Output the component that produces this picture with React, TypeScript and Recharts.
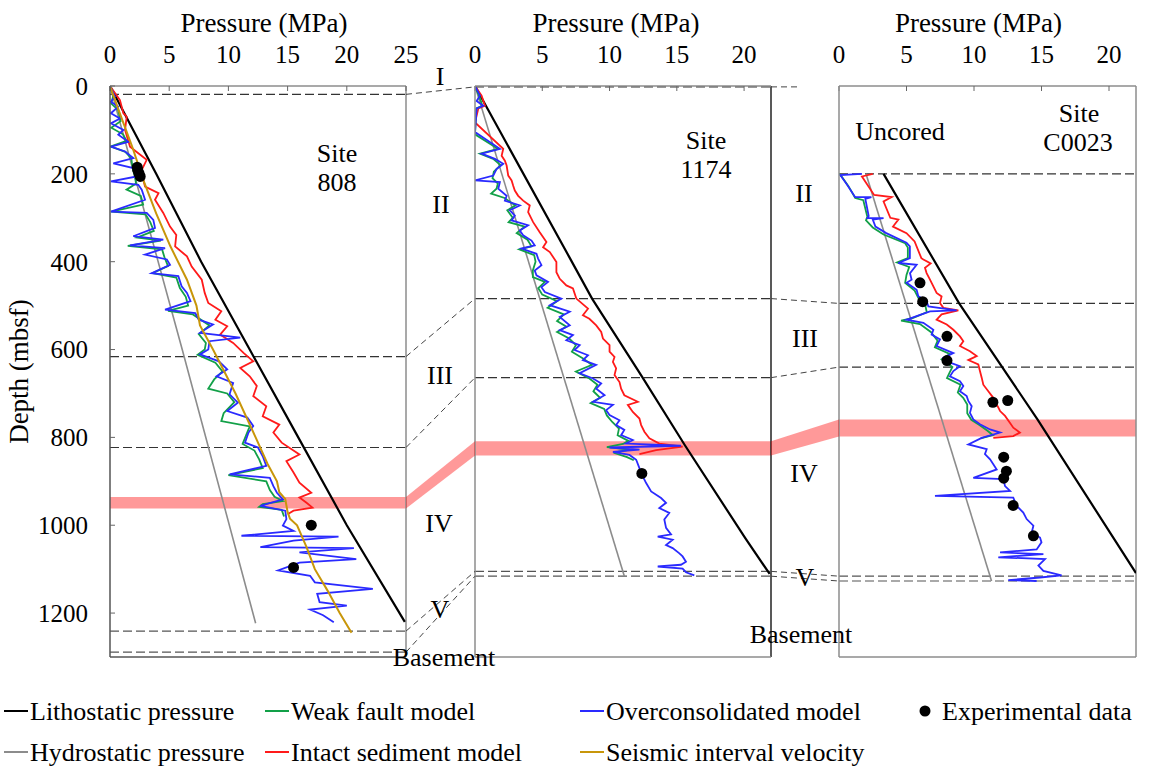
import React from 'react';
import {
  ComposedChart, Line, Scatter, XAxis, YAxis,
  ReferenceLine, ReferenceArea, Label,
} from 'recharts';

type Pair = [number, number | null];

const SERIF = '"Liberation Serif", "Times New Roman", serif';
const COLORS = {
  litho: '#000000',
  hydro: '#8c8c8c',
  weak: '#12a048',
  intact: '#ff1a1a',
  over: '#2a2aff',
  seismic: '#c8960a',
  band: 'rgba(255,0,0,0.4)',
};

// shared depth geometry (all three panels use 0-1300 mbsf over the same height)
const PLOT_TOP = 86;
const PLOT_H = 571;
const DEPTH_MAX = 1300;
const DEPTH_TICKS = [0, 200, 400, 600, 800, 1000, 1200];

// ---------- Site 808 ----------
const S808_LITHO: Pair[] = [[0, 0], [200, 3.9], [400, 7.7], [600, 11.8], [800, 15.9], [1000, 20.0], [1220, 24.9]];
const S808_HYDRO: Pair[] = [[0, 0], [600, 6.1], [1223, 12.3]];
const S808_OVER: Pair[] = [
  [0, 0], [24, 0.42], [36, 0.08], [47, 0.7], [62, 0.08], [74, 0.84], [85, 0.08], [100, 1.13], [111, 0.7],
  [127, 1.55], [138, 0.08], [149, 1.27], [164, 1.97], [176, 0.28], [187, 1.97], [206, 2.25], [217, 0.08],
  [225, 2.39], [236, 2.68], [259, 2.96], [286, 0.08], [289, 3.1], [305, 3.66], [323, 3.8], [342, 1.97],
  [350, 4.5], [363, 1.69], [369, 4.65], [384, 2.96], [395, 4.8], [407, 5.07], [426, 3.52], [433, 5.77],
  [456, 6.05], [471, 6.5], [490, 6.8], [509, 4.65], [517, 7.2], [532, 7.5], [543, 8.7], [562, 7.6],
  [573, 11.0], [581, 8.4], [600, 8.3], [611, 7.6], [627, 9.2], [645, 9.9], [661, 9.0], [676, 10.4],
  [702, 10.1], [721, 10.8], [740, 9.9], [755, 11.6], [774, 12.1], [789, 11.7], [812, 11.4], [823, 12.5],
  [843, 12.9], [865, 13.2], [884, 10.1], [892, 13.5], [911, 13.8], [926, 14.1], [941, 14.6], [956, 12.7],
  [967, 14.8], [986, 14.9], [1001, 14.6], [1013, 15.5], [1024, 11.1], [1026, 19.3], [1035, 15.5],
  [1050, 12.7], [1052, 20.6], [1062, 16.0], [1077, 20.8], [1085, 16.0], [1103, 14.2], [1115, 16.9],
  [1130, 17.3], [1145, 22.2], [1156, 17.5], [1175, 17.7], [1183, 20.0], [1192, 16.9], [1205, 18.0], [1221, 18.9],
];
const S808_WEAK: Pair[] = [
  [0, 0], [20, 0.3], [40, 0.1], [55, 0.7], [80, 0.9], [95, 0.1], [110, 1.1], [125, 1.4], [138, 0.05],
  [150, 1.3], [165, 1.8], [185, 1.9], [205, 2.1], [222, 2.2], [236, 1.4], [250, 2.6], [270, 2.8], [286, 0.1],
  [292, 3.0], [310, 3.4], [330, 3.7], [345, 2.3], [352, 4.3], [364, 1.5], [372, 4.4], [390, 4.6], [410, 4.9],
  [426, 3.6], [436, 5.6], [460, 5.9], [480, 6.4], [500, 6.6], [512, 4.9], [520, 7.0], [545, 8.4], [565, 7.5],
  [585, 8.1], [600, 8.0], [612, 7.4], [630, 8.9], [650, 9.5], [668, 8.8], [689, 8.3], [700, 9.9], [720, 10.5],
  [745, 9.6], [763, 9.4], [775, 11.8], [795, 11.5], [815, 11.2], [830, 12.2], [850, 12.6], [870, 12.9],
  [886, 10.0], [900, 13.2], [920, 13.5], [935, 13.9], [945, 14.6], [952, 12.9], [958, 12.6], [965, 14.5], [980, 14.7],
];
const S808_INTACT: Pair[] = [
  [0, 0], [32, 0.84], [62, 1.13], [70, 1.41], [100, 1.27], [138, 1.69], [153, 2.39], [168, 3.1], [191, 2.68],
  [214, 2.82], [229, 2.96], [244, 4.1], [259, 3.8], [289, 4.5], [320, 5.07], [339, 5.6], [365, 5.5], [388, 6.5],
  [411, 6.9], [441, 7.75], [471, 8.0], [494, 8.3], [513, 9.4], [532, 8.9], [547, 9.9], [566, 9.3], [585, 10.4],
  [608, 11.3], [627, 12.1], [642, 11.0], [661, 11.8], [683, 12.4], [706, 12.1], [729, 13.2], [752, 12.9],
  [771, 14.3], [789, 13.8], [812, 14.5], [839, 16.0], [854, 14.9], [880, 15.5], [903, 16.0], [926, 17.0],
  [937, 16.0], [949, 16.6], [960, 17.1], [967, 15.5], [975, 15.0],
];
const S808_SEISMIC: Pair[] = [
  [0, 0], [60, 0.8], [140, 1.9], [213, 2.8], [290, 3.9], [365, 5.1], [441, 6.5], [500, 7.3], [530, 7.5],
  [545, 7.6], [600, 8.7], [700, 10.6], [800, 12.3], [860, 13.3], [900, 14.1], [925, 14.3], [940, 14.8],
  [970, 15.0], [985, 15.2], [1000, 15.8], [1050, 16.6], [1100, 17.3], [1150, 18.4], [1200, 19.4], [1245, 20.4],
];
const S808_EXP: Pair[] = [[185, 2.3], [192, 2.35], [199, 2.45], [206, 2.55], [1000, 17.0], [1096, 15.5]];
const S808_UNITS = [19, 616, 823, 1241, 1289];
const S808_BAND: [number, number] = [936, 962];

// ---------- Site 1174 ----------
const S1174_LITHO: Pair[] = [[0, 0], [389, 7.0], [484, 8.7], [661, 12.4], [818, 15.6], [1030, 20.1], [1111, 21.9]];
const S1174_HYDRO: Pair[] = [[0, 0], [1116, 11.1]];
const S1174_OVER: Pair[] = [
  [0, 0], [22, 0.37], [34, 0.12], [45, 0.62], [51, 0.12], [78, null], [105, 0], [143, 1.85], [154, 0.49],
  [166, 1.48], [177, 2.1], [189, 1.6], [204, 1.36], [215, 0], [219, 1.85], [234, 1.73], [250, 2.35], [261, 2.22],
  [272, 3.33], [283, 2.59], [295, 2.96], [306, 2.72], [317, 3.95], [329, 3.33], [340, 3.58], [352, 4.2],
  [363, 4.44], [370, 3.46], [382, 4.57], [393, 4.69], [408, 4.94], [420, 4.44], [431, 4.57], [446, 5.43],
  [458, 4.94], [469, 5.19], [484, 6.42], [499, 5.56], [514, 7.04], [526, 6.3], [545, 7.04], [556, 6.3],
  [567, 7.28], [579, 6.79], [590, 7.78], [601, 7.4], [613, 8.4], [624, 8.02], [635, 9.0], [654, 7.78],
  [666, 8.77], [677, 9.38], [689, 9.01], [704, 9.63], [719, 8.77], [726, 10.25], [738, 9.75], [749, 10.0],
  [761, 10.74], [772, 10.49], [783, 11.1], [795, 10.86], [806, 11.73], [814, 11.23], [819, 15.31], [823, 10.0],
  [828, 12.22], [833, 10.25], [840, 11.48], [851, 11.98], [870, 12.22], [889, 12.47], [904, 12.72],
  [923, 13.09], [938, 13.83], [949, 14.2], [961, 13.7], [972, 14.44], [987, 14.07], [1006, 14.2],
  [1021, 14.57], [1026, 13.58], [1033, 14.69], [1045, 14.2], [1052, 14.69], [1064, 15.19], [1071, 15.43],
  [1083, 15.68], [1090, 15.31], [1094, 13.58], [1099, 15.43], [1107, 15.68], [1114, 16.3],
];
const S1174_WEAK: Pair[] = [
  [0, 0], [22, 0.3], [45, 0.55], [51, 0.1], [78, null], [110, 0], [143, 1.7], [154, 0.37], [166, 1.35],
  [180, 1.9], [195, 1.4], [210, 1.3], [222, 1.7], [234, 1.6], [245, 1.2], [255, 2.2], [272, 3.0], [283, 2.4],
  [300, 2.8], [310, 2.5], [320, 3.7], [335, 3.1], [350, 3.9], [365, 4.2], [372, 3.3], [385, 4.4], [400, 4.5],
  [420, 4.3], [435, 4.3], [446, 5.2], [460, 4.7], [475, 5.0], [490, 6.1], [505, 5.4], [520, 6.6], [535, 6.1],
  [548, 6.8], [560, 6.1], [575, 7.0], [590, 7.5], [605, 7.2], [620, 8.0], [635, 8.7], [650, 7.5], [666, 8.5],
  [680, 9.1], [695, 8.8], [710, 9.3], [722, 8.6], [735, 9.6], [750, 9.8], [765, 10.2], [780, 10.7], [795, 10.6],
  [808, 11.4], [815, 11.0], [822, 9.8], [828, 11.5], [835, 10.3], [845, 11.3], [852, 11.8],
];
const S1174_INTACT: Pair[] = [
  [0, 0], [22, 0.49], [45, 0.74], [51, 0.25], [70, null], [83, 0], [143, 2.1], [159, 1.98], [170, 2.22],
  [181, 2.35], [204, 2.47], [215, 2.72], [227, 2.84], [238, 2.96], [250, 3.21], [261, 3.58], [272, 4.07],
  [287, 3.95], [310, 4.32], [333, 4.81], [355, 5.31], [367, 5.06], [378, 5.56], [401, 6.05], [424, 6.05],
  [439, 6.3], [454, 6.79], [461, 7.28], [484, 7.53], [507, 8.4], [522, 8.02], [530, 8.5], [545, 9.01],
  [560, 9.38], [575, 9.51], [590, 10.0], [605, 10.0], [617, 10.37], [628, 10.25], [643, 10.49], [658, 10.37],
  [674, 10.74], [689, 10.86], [704, 11.1], [719, 12.1], [726, 11.36], [742, 11.73], [757, 12.22],
  [772, 12.35], [787, 12.59], [802, 12.96], [814, 13.7], [821, 15.43], [829, 13.46], [838, 12.22],
];
const S1174_EXP: Pair[] = [[882, 12.4]];
const S1174_UNITS = [2, 484, 664, 1105, 1116];
const S1174_BAND: [number, number] = [809, 841];

// ---------- Site C0023 ----------
const C0023_LITHO: Pair[] = [[200, 3.3], [495, 8.9], [759, 14.7], [1109, 22.0]];
const C0023_HYDRO: Pair[] = [[200, 2.0], [1127, 11.3]];
const C0023_OVER: Pair[] = [
  [200, 1.7], [203, 0.1], [225, 0.6], [253, 1.2], [253, 2.4], [257, 1.95], [296, 2.2], [301, 2.1], [301, 3.3],
  [304, 2.5], [320, 2.7], [335, 3.5], [357, 5.0], [365, 5.25], [392, 5.25], [403, 4.4], [407, 5.75],
  [426, 5.26], [441, 5.38], [448, 5.01], [464, 5.75], [479, 5.88], [490, 6.49], [502, 6.62], [511, 8.71],
  [513, 6.74], [524, 5.75], [532, 5.01], [539, 6.25], [555, 6.99], [566, 6.86], [577, 7.48], [592, 7.23],
  [608, 8.47], [619, 7.73], [627, 7.98], [638, 8.96], [649, 8.47], [661, 8.22], [672, 8.96], [683, 9.21],
  [695, 8.96], [706, 9.46], [717, 9.58], [729, 9.83], [744, 9.7], [759, 9.95], [770, 10.44], [782, 11.19],
  [789, 11.93], [801, 10.57], [816, 9.58], [827, 10.94], [838, 10.81], [850, 11.19], [861, 11.43],
  [873, 11.68], [892, 9.95], [895, 12.17], [911, 12.3], [922, 12.67], [933, 7.11], [937, 12.91],
  [956, 13.16], [971, 13.65], [986, 13.9], [1001, 14.4], [1017, 14.27], [1028, 14.89], [1039, 15.0],
  [1055, 14.64], [1062, 11.93], [1066, 15.14], [1073, 11.8], [1077, 15.26], [1092, 14.77], [1104, 15.14],
  [1114, 16.49], [1119, 14.89], [1125, 12.54], [1127, 14.64],
];
const C0023_WEAK: Pair[] = [
  [200, 0.0], [206, 0.2], [228, 0.7], [255, 1.2], [260, 1.8], [298, 2.1], [306, 2.0], [322, 2.5], [338, 3.3],
  [358, 4.9], [368, 5.1], [392, 5.1], [402, 4.3], [412, 5.2], [430, 5.0], [448, 4.9], [466, 5.6], [484, 5.9],
  [500, 6.4], [515, 6.5], [528, 5.5], [534, 4.6], [542, 6.0], [560, 6.8], [580, 7.3], [595, 7.1], [610, 8.2],
  [622, 7.6], [640, 8.4], [652, 8.2], [665, 8.0], [680, 9.0], [698, 8.8], [710, 9.2], [725, 9.5], [745, 9.5],
  [760, 9.8], [772, 10.4], [785, 11.0], [795, 11.4], [802, 10.5],
];
const C0023_INTACT: Pair[] = [
  [200, 2.5], [206, 1.7], [248, 2.6], [253, 3.9], [263, 3.3], [300, 3.8], [304, 4.4], [320, 4.0], [335, 5.0],
  [354, 5.6], [392, 6.1], [395, 6.25], [404, 6.79], [414, 6.37], [426, 6.49], [441, 6.74], [456, 6.99],
  [471, 7.23], [479, 7.6], [494, 7.48], [505, 7.73], [511, 8.84], [520, 7.6], [532, 7.23], [543, 7.98],
  [555, 8.47], [570, 8.96], [581, 9.21], [592, 8.96], [604, 9.7], [615, 10.2], [624, 9.58], [634, 10.32],
  [649, 10.44], [664, 10.57], [680, 10.69], [695, 11.06], [710, 11.43], [725, 11.68], [740, 11.93],
  [751, 12.3], [767, 12.67], [778, 12.91], [789, 13.4], [797, 12.91], [801, 11.43],
];
const C0023_EXP: Pair[] = [
  [448, 6.0], [491, 6.2], [570, 8.0], [625, 8.0], [716, 12.5], [720, 11.4], [845, 12.2], [877, 12.4],
  [893, 12.2], [955, 12.9], [1024, 14.4],
];
const C0023_UNITS = [200, 495, 640, 1116, 1127];
const C0023_BAND: [number, number] = [759, 798];

// unit boundaries joined across the gaps between panels
const LINKS_808_1174: [number, number][] = [[19, 2], [616, 484], [823, 664], [1241, 1105], [1289, 1116]];
const LINKS_1174_C0023: [number, number][] = [[484, 495], [664, 640], [1105, 1116], [1116, 1127]];

const LEGEND = [
  { name: 'Lithostatic pressure', color: COLORS.litho, x: 4, row: 0 },
  { name: 'Weak fault model', color: COLORS.weak, x: 265, row: 0 },
  { name: 'Overconsolidated model', color: COLORS.over, x: 580, row: 0 },
  { name: 'Experimental data', color: '#000', x: 917, row: 0, dot: true },
  { name: 'Hydrostatic pressure', color: COLORS.hydro, x: 4, row: 1 },
  { name: 'Intact sediment model', color: COLORS.intact, x: 265, row: 1 },
  { name: 'Seismic interval velocity', color: COLORS.seismic, x: 580, row: 1 },
];

const pts = (a: Pair[]) => a.map(([d, p]) => ({ d, p }));
const depthY = (d: number) => PLOT_TOP + (d * PLOT_H) / DEPTH_MAX;

const Dot = (props: any) => <circle cx={props.cx} cy={props.cy} r={5.5} fill="#000" />;

interface PanelCfg {
  left: number;
  axisW: number;
  plotW: number;
  xMax: number;
  xTicks: number[];
  titleDx: number;
  depthLabels: boolean;
  leftColor: string;
  topColor: string;
  rightColor: string;
  bottomColor: string;
  litho: Pair[];
  hydro: Pair[];
  weak: Pair[];
  intact: Pair[];
  over: Pair[];
  seismic?: Pair[];
  exp: Pair[];
  units: number[];
  band: [number, number];
}

const PANELS: PanelCfg[] = [
  {
    left: 0, axisW: 110, plotW: 296, xMax: 25, xTicks: [0, 5, 10, 15, 20, 25], titleDx: 6, depthLabels: true,
    leftColor: '#555', topColor: '#8c8c8c', rightColor: '#8c8c8c', bottomColor: '#555',
    litho: S808_LITHO, hydro: S808_HYDRO, weak: S808_WEAK, intact: S808_INTACT, over: S808_OVER,
    seismic: S808_SEISMIC, exp: S808_EXP, units: S808_UNITS, band: S808_BAND,
  },
  {
    left: 465, axisW: 10, plotW: 296, xMax: 22, xTicks: [0, 5, 10, 15, 20], titleDx: -7, depthLabels: false,
    leftColor: '#8c8c8c', topColor: '#8c8c8c', rightColor: '#222', bottomColor: '#8c8c8c',
    litho: S1174_LITHO, hydro: S1174_HYDRO, weak: S1174_WEAK, intact: S1174_INTACT, over: S1174_OVER,
    exp: S1174_EXP, units: S1174_UNITS, band: S1174_BAND,
  },
  {
    left: 829, axisW: 10, plotW: 297, xMax: 22, xTicks: [0, 5, 10, 15, 20], titleDx: -9, depthLabels: false,
    leftColor: '#8c8c8c', topColor: '#8c8c8c', rightColor: '#8c8c8c', bottomColor: '#8c8c8c',
    litho: C0023_LITHO, hydro: C0023_HYDRO, weak: C0023_WEAK, intact: C0023_INTACT, over: C0023_OVER,
    exp: C0023_EXP, units: C0023_UNITS, band: C0023_BAND,
  },
];

const TICK = { fill: '#000', fontSize: 25, fontFamily: SERIF };
const RIGHT_PAD = 18;

function Panel({ cfg }: { cfg: PanelCfg }) {
  return (
    <div style={{ position: 'absolute', left: cfg.left, top: 0 }}>
      <ComposedChart
        width={cfg.axisW + cfg.plotW + RIGHT_PAD}
        height={PLOT_TOP + PLOT_H + 16}
        layout="vertical"
        margin={{ top: 0, right: RIGHT_PAD, bottom: 16, left: 0 }}
      >
        <XAxis
          type="number" dataKey="p" orientation="top" domain={[0, cfg.xMax]} ticks={cfg.xTicks}
          allowDataOverflow interval={0} height={PLOT_TOP} tickSize={-5} tickMargin={28}
          tick={TICK} axisLine={{ stroke: cfg.topColor, strokeWidth: 1.5 }} tickLine={{ stroke: '#666' }}
        >
          <Label value="Pressure (MPa)" position="insideTop" offset={13} dx={cfg.titleDx}
            fontSize={27} fontFamily={SERIF} fill="#000" />
        </XAxis>
        <YAxis
          type="number" dataKey="d" domain={[0, DEPTH_MAX]} ticks={DEPTH_TICKS} allowDataOverflow
          interval={0} width={cfg.axisW} tickSize={-5} tickMargin={27}
          tick={cfg.depthLabels ? TICK : false}
          axisLine={{ stroke: cfg.leftColor, strokeWidth: 1.5 }} tickLine={{ stroke: '#666' }}
        >
          {cfg.depthLabels && (
            <Label
              content={() => {
                const x = 19;
                const y = PLOT_TOP + PLOT_H / 2;
                return (
                  <text x={x} y={y} transform={`rotate(-90 ${x} ${y})`} textAnchor="middle"
                    dominantBaseline="central" fontSize={27} fontFamily={SERIF} fill="#000">
                    Depth (mbsf)
                  </text>
                );
              }}
            />
          )}
        </YAxis>

        <ReferenceLine x={cfg.xMax} stroke={cfg.rightColor} strokeWidth={1.5} />
        <ReferenceLine y={DEPTH_MAX} stroke={cfg.bottomColor} strokeWidth={1.5} />
        {cfg.units.map((d, i) => (
          <ReferenceLine key={i} y={d} stroke={i >= 3 ? '#555' : '#333'} strokeDasharray="9 4" strokeWidth={1.2} />
        ))}

        <Line data={pts(cfg.hydro)} dataKey="p" stroke={COLORS.hydro} strokeWidth={1.6} dot={false} isAnimationActive={false} />
        <Line data={pts(cfg.litho)} dataKey="p" stroke={COLORS.litho} strokeWidth={2.2} dot={false} isAnimationActive={false} />
        <Line data={pts(cfg.intact)} dataKey="p" stroke={COLORS.intact} strokeWidth={1.8} dot={false} isAnimationActive={false} />
        <Line data={pts(cfg.weak)} dataKey="p" stroke={COLORS.weak} strokeWidth={1.8} dot={false} isAnimationActive={false} />
        <Line data={pts(cfg.over)} dataKey="p" stroke={COLORS.over} strokeWidth={1.8} dot={false} isAnimationActive={false} />
        {cfg.seismic && (
          <Line data={pts(cfg.seismic)} dataKey="p" stroke={COLORS.seismic} strokeWidth={2} dot={false} isAnimationActive={false} />
        )}
        <Scatter data={pts(cfg.exp)} dataKey="p" shape={Dot} isAnimationActive={false} />

        <ReferenceArea y1={cfg.band[0]} y2={cfg.band[1]} fill={COLORS.band} fillOpacity={1} stroke="none" />
      </ComposedChart>
    </div>
  );
}

const P1_RIGHT = 406;
const P2_LEFT = 475;
const P2_RIGHT = 771;
const P3_LEFT = 839;

const txt = { fontFamily: SERIF, fill: '#000' };

function Overlay() {
  const bandPoly = (xa: number, a: [number, number], xb: number, b: [number, number]) =>
    `${xa},${depthY(a[0])} ${xb},${depthY(b[0])} ${xb},${depthY(b[1])} ${xa},${depthY(a[1])}`;
  return (
    <svg width={1151} height={769} style={{ position: 'absolute', left: 0, top: 0, pointerEvents: 'none' }}>
      {LINKS_808_1174.map(([a, b], i) => (
        <line key={`a${i}`} x1={P1_RIGHT} y1={depthY(a)} x2={P2_LEFT} y2={depthY(b)}
          stroke="#444" strokeDasharray="6 4" strokeWidth={1} />
      ))}
      {LINKS_1174_C0023.map(([a, b], i) => (
        <line key={`b${i}`} x1={P2_RIGHT} y1={depthY(a)} x2={P3_LEFT} y2={depthY(b)}
          stroke="#444" strokeDasharray="6 4" strokeWidth={1} />
      ))}
      <line x1={P2_RIGHT} y1={depthY(S1174_UNITS[0])} x2={800} y2={depthY(S1174_UNITS[0])}
        stroke="#444" strokeDasharray="6 4" strokeWidth={1} />
      <polygon points={bandPoly(P1_RIGHT, S808_BAND, P2_LEFT, S1174_BAND)} fill={COLORS.band} />
      <polygon points={bandPoly(P2_RIGHT, S1174_BAND, P3_LEFT, C0023_BAND)} fill={COLORS.band} />

      <g {...txt} fontSize={26} textAnchor="middle">
        <text x={440} y={85}>I</text>
        <text x={441} y={213}>II</text>
        <text x={440} y={384}>III</text>
        <text x={439} y={532}>IV</text>
        <text x={440} y={618}>V</text>
        <text x={444} y={666}>Basement</text>
        <text x={804} y={202}>II</text>
        <text x={805} y={347}>III</text>
        <text x={804} y={482}>IV</text>
        <text x={805} y={586}>V</text>
        <text x={801} y={643}>Basement</text>
      </g>
      <g {...txt} fontSize={26} textAnchor="middle">
        <text x={337} y={162}>Site</text>
        <text x={337} y={191}>808</text>
        <text x={706} y={149}>Site</text>
        <text x={706} y={178}>1174</text>
        <text x={1079} y={122}>Site</text>
        <text x={1078} y={151}>C0023</text>
        <text x={900} y={140}>Uncored</text>
      </g>

      {LEGEND.map((it) => {
        const cy = it.row === 0 ? 711 : 752;
        return (
          <g key={it.name}>
            {it.dot ? (
              <circle cx={it.x + 8} cy={cy} r={5.5} fill={it.color} />
            ) : (
              <line x1={it.x} y1={cy} x2={it.x + 24} y2={cy} stroke={it.color} strokeWidth={2} />
            )}
            <text x={it.x + (it.dot ? 25 : 26)} y={cy + 9} fontSize={26} {...txt}>{it.name}</text>
          </g>
        );
      })}
    </svg>
  );
}

export default function App() {
  return (
    <div style={{ position: 'absolute', left: 0, top: 0, width: 1151, height: 769, background: '#fff' }}>
      {PANELS.map((cfg, i) => (
        <Panel key={i} cfg={cfg} />
      ))}
      <Overlay />
    </div>
  );
}
